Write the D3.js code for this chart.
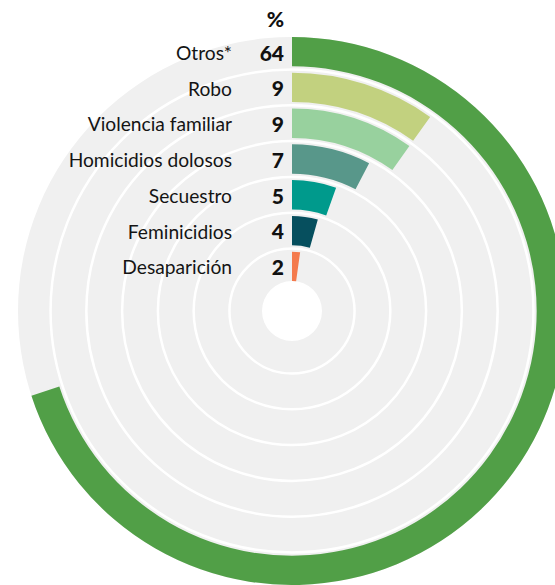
<!DOCTYPE html>
<html>
<head>
<meta charset="utf-8">
<script src="https://cdn.jsdelivr.net/npm/d3@7"></script>
<style>
  html, body { margin: 0; padding: 0; background: #ffffff; }
  svg { display: block; }
</style>
</head>
<body>
<svg id="chart" width="555" height="585"></svg>
<script>
const categories = ["Otros*", "Robo", "Violencia familiar", "Homicidios dolosos", "Secuestro", "Feminicidios", "Desaparición"];
const values = [64, 9, 9, 7, 5, 4, 2];
const colors = ["#519f47", "#c2d17f", "#98d19e", "#58978a", "#009a8c", "#064f5e", "#f47a4c"];
const headerLabel = "%";

const W = 555, H = 585;
const cx = 292, cy = 311;
const innerR = 30, outerR = 274;

const svg = d3.select("#chart");
const g = svg.append("g").attr("transform", `translate(${cx},${cy})`);

const rScale = d3.scaleBand()
  .domain(categories)
  .range([outerR, innerR])
  .paddingInner(0.18);

const aScale = d3.scaleLinear()
  .domain([0, d3.max(values)])
  .range([0, 1.4 * Math.PI]);

// grey background disc
g.append("path")
  .attr("d", d3.arc()({innerRadius: innerR, outerRadius: outerR, startAngle: 0, endAngle: 2 * Math.PI}))
  .attr("fill", "#f0f0f0");

// white separator rings
const step = rScale.step();
categories.slice(0, -1).forEach((c) => {
  const r = rScale(c) - (step - rScale.bandwidth()) / 2;
  g.append("circle")
    .attr("r", r)
    .attr("fill", "none")
    .attr("stroke", "#ffffff")
    .attr("stroke-width", 2.5);
});

// bars
const arc = d3.arc();
g.selectAll("path.bar")
  .data(categories)
  .join("path")
  .attr("class", "bar")
  .attr("fill", (d, i) => colors[i])
  .attr("d", (d, i) => arc({
    innerRadius: rScale(d),
    outerRadius: rScale(d) + rScale.bandwidth(),
    startAngle: 0,
    endAngle: aScale(values[i])
  }));

// labels
const font = "Lato, 'Open Sans', sans-serif";
g.selectAll("text.cat")
  .data(categories)
  .join("text")
  .attr("class", "cat")
  .attr("x", -60)
  .attr("y", d => -(rScale(d) + rScale.bandwidth() / 2))
  .attr("dy", "0.42em")
  .attr("text-anchor", "end")
  .attr("font-family", font)
  .attr("font-size", 19.2)
  .attr("fill", "#141414")
  .text(d => d);

g.selectAll("text.val")
  .data(categories)
  .join("text")
  .attr("class", "val")
  .attr("x", -8)
  .attr("y", d => -(rScale(d) + rScale.bandwidth() / 2))
  .attr("dy", "0.42em")
  .attr("text-anchor", "end")
  .attr("font-family", font)
  .attr("font-size", 21)
  .attr("font-weight", 900)
  .attr("fill", "#111")
  .text((d, i) => values[i]);

g.append("text")
  .attr("x", -8)
  .attr("y", -(outerR + 18))
  .attr("dy", "0.4em")
  .attr("text-anchor", "end")
  .attr("font-family", font)
  .attr("font-size", 21)
  .attr("font-weight", 900)
  .attr("fill", "#111")
  .text(headerLabel);
</script>
</body>
</html>
